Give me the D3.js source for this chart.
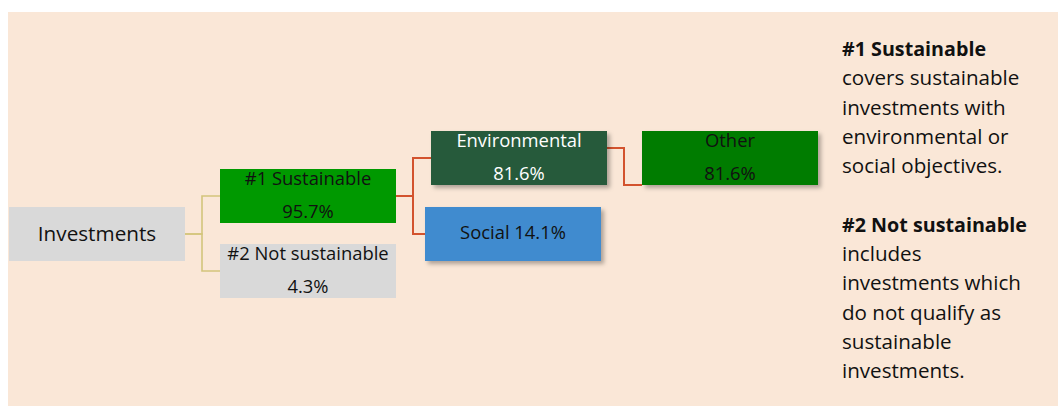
<!DOCTYPE html>
<html>
<head>
<meta charset="utf-8">
<script src="https://cdn.jsdelivr.net/npm/d3@7"></script>
<style>
  body { margin: 0; background: #ffffff; }
  svg text { font-family: "Open Sans", Lato, sans-serif; }
</style>
</head>
<body>
<div id="chart"></div>
<script>
// tree of the asset allocation
var nodeNames = ["Investments", "#1 Sustainable", "#2 Not sustainable", "Environmental", "Social", "Other"];
var nodeParents = [null, "Investments", "Investments", "#1 Sustainable", "#1 Sustainable", "Environmental"];
var nodeValues = [null, 95.7, 4.3, 81.6, 14.1, 81.6];
var nodeColors = ["#d9d9d9", "#009900", "#d9d9d9", "#265a3a", "#3f8bcf", "#007b00"];
var textColors = ["#111", "#111", "#111", "#ffffff", "#111", "#111"];
var linkColors = ["#d3c57c", "#d3532e", "#d3532e"]; // by parent depth

var noteTitles = ["#1 Sustainable", "#2 Not sustainable"];
var noteLines = [
  ["covers sustainable", "investments with", "environmental or", "social objectives."],
  ["includes", "investments which", "do not qualify as", "sustainable", "investments."]
];

var width = 1058, height = 406;
var boxW = 176, boxH = 54;

var svg = d3.select("#chart").append("svg")
  .attr("width", width)
  .attr("height", height);

var defs = svg.append("defs");
var shadow = defs.append("filter").attr("id", "shadow")
  .attr("x", "-10%").attr("y", "-20%").attr("width", "130%").attr("height", "160%");
shadow.append("feDropShadow")
  .attr("dx", 3).attr("dy", 3).attr("stdDeviation", 2.2)
  .attr("flood-color", "#000").attr("flood-opacity", 0.3);

// background panel
svg.append("rect")
  .attr("x", 8).attr("y", 12)
  .attr("width", width - 8).attr("height", height - 12)
  .attr("fill", "#fae7d7");

var table = nodeNames.map(function(n, i) {
  return { name: n, parent: nodeParents[i], value: nodeValues[i], color: nodeColors[i], tcolor: textColors[i] };
});
var root = d3.stratify()
  .id(function(d) { return d.name; })
  .parentId(function(d) { return d.parent; })(table);

var xScale = d3.scaleLinear().domain([0, 3]).range([9, 642]);
var yScale = d3.scaleLinear().domain([0, 3]).range([158, 272]);

// rows: two children go one row up and down, a single child stays level
root.row = 2;
root.each(function(d) {
  if (!d.children) return;
  if (d.children.length == 1) d.children[0].row = d.row;
  else d.children.forEach(function(c, i) { c.row = d.row + (i == 0 ? -1 : 1); });
});

root.each(function(d) {
  d.x0 = xScale(d.depth) - (d.id == "Social" ? 6 : 0);
  d.yc = yScale(d.row) + (d.id == "#2 Not sustainable" ? -1 : 0);
  d.y0 = d.yc - boxH / 2;
});

// elbow connectors
var links = svg.append("g").attr("fill", "none");
root.links().forEach(function(l) {
  var s = l.source, t = l.target;
  var sx = s.x0 + boxW, sy = s.yc, tx = t.x0, ty = t.yc;
  if (s.children.length == 1) { sy = s.y0 + 17; ty = t.y0 + boxH; }
  var mx = sx + 17;
  links.append("path")
    .attr("d", "M" + sx + "," + sy + "H" + mx + "V" + ty + "H" + tx)
    .attr("stroke", linkColors[s.depth])
    .attr("stroke-width", s.depth == 0 ? 1.6 : 2);
});

var nodes = svg.append("g").selectAll("g")
  .data(root.descendants())
  .enter().append("g")
  .attr("transform", function(d) { return "translate(" + d.x0 + "," + d.y0 + ")"; });

nodes.append("rect")
  .attr("width", boxW)
  .attr("height", boxH)
  .attr("fill", function(d) { return d.data.color; })
  .attr("filter", function(d) { return d.depth >= 2 ? "url(#shadow)" : null; });

nodes.each(function(d) {
  var g = d3.select(this);
  var t = g.append("text")
    .attr("text-anchor", "middle")
    .attr("fill", d.data.tcolor)
    .style("font-size", d.depth == 0 ? "20.7px" : "18.4px");
  if (d.data.value == null) {
    t.attr("x", boxW / 2).attr("y", 34).text(d.data.name);
  } else if (d.id == "Social") {
    t.attr("x", boxW / 2).attr("y", 32).text(d.data.name + " " + d.data.value + "%");
  } else {
    t.append("tspan").attr("x", boxW / 2).attr("y", 16).text(d.data.name);
    t.append("tspan").attr("x", boxW / 2).attr("y", 49).text(d.data.value + "%");
  }
});

// notes on the right
var notes = svg.append("g").attr("transform", "translate(842,0)")
  .style("font-size", "20.6px").attr("fill", "#111");
var lineH = 29.3;
var yPos = 56;
noteTitles.forEach(function(title, k) {
  notes.append("text").attr("x", 0).attr("y", yPos)
    .attr("font-weight", "bold").style("font-size", "19.7px").text(title);
  noteLines[k].forEach(function(line, j) {
    notes.append("text").attr("x", 0).attr("y", yPos + (j + 1) * lineH).text(line);
  });
  yPos += (noteLines[k].length + 2) * lineH;
});
</script>
</body>
</html>
